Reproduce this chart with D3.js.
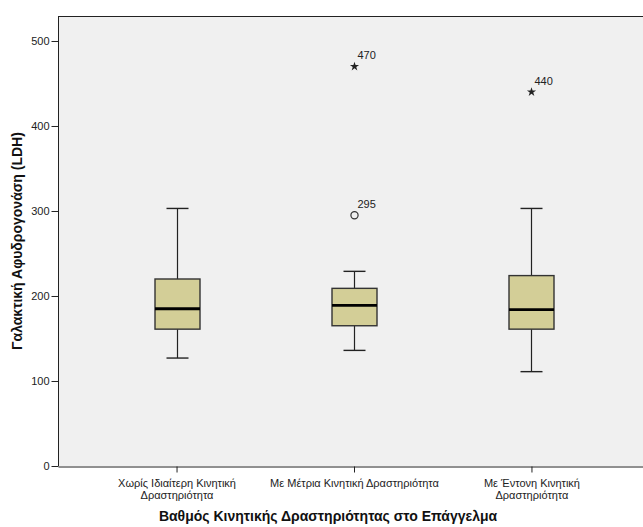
<!DOCTYPE html>
<html>
<head>
<meta charset="utf-8">
<script src="https://cdn.jsdelivr.net/npm/d3@7"></script>
<style>
  html, body { margin: 0; padding: 0; background: #ffffff; }
  svg { display: block; font-family: "Liberation Sans", Arial, sans-serif; }
</style>
</head>
<body>
<svg id="chart" width="643" height="527"></svg>
<script>
// Groups and their two-line axis labels
const categories = [
  "Χωρίς Ιδιαίτερη Κινητική Δραστηριότητα",
  "Με Μέτρια Κινητική Δραστηριότητα",
  "Με Έντονη Κινητική Δραστηριότητα"
];
const tickLabelLines = [
  ["Χωρίς Ιδιαίτερη Κινητική", "Δραστηριότητα"],
  ["Με Μέτρια Κινητική Δραστηριότητα"],
  ["Με Έντονη Κινητική", "Δραστηριότητα"]
];

// Five-number summaries per group (LDH)
const whiskerLow  = [127, 136, 111];
const q1          = [161, 165, 161];
const median      = [185, 189, 184];
const q3          = [220, 209, 224];
const whiskerHigh = [303, 229, 303];

// Outliers: group index, value, kind (circle = outlier, star = extreme), case label
const outlierGroup = [1, 1, 2];
const outlierValue = [295, 470, 440];
const outlierKind  = ["circle", "star", "star"];
const outlierLabel = ["295", "470", "440"];

const yTicks = [0, 100, 200, 300, 400, 500];

const svg = d3.select("#chart");
const plotLeft = 58, plotTop = 16, plotBottom = 466, plotRight = 650;

const x = d3.scalePoint().domain(categories).range([plotLeft, plotRight]).padding(0.668);
const y = d3.scaleLinear().domain([0, 529.4]).range([plotBottom, plotTop]);
const boxW = 45;
const capW = 22;

// Plot background
svg.append("rect")
  .attr("x", plotLeft).attr("y", plotTop)
  .attr("width", plotRight - plotLeft).attr("height", plotBottom - plotTop)
  .attr("fill", "#f0f0f0");

// Top frame line
svg.append("line")
  .attr("x1", plotLeft).attr("x2", plotRight)
  .attr("y1", plotTop + 0.5).attr("y2", plotTop + 0.5)
  .attr("stroke", "#222").attr("stroke-width", 1);

// Y axis
const yAxis = svg.append("g")
  .attr("transform", `translate(${plotLeft + 0.5},0)`)
  .call(d3.axisLeft(y).tickValues(yTicks).tickSize(7).tickPadding(2).tickSizeOuter(0));
yAxis.select(".domain").attr("stroke", "#222").attr("d", `M0,${plotBottom}V${plotTop}`);
yAxis.selectAll(".tick line").attr("stroke", "#222");
yAxis.selectAll(".tick text")
  .attr("font-size", 11).attr("fill", "#222")
  .attr("font-family", "Liberation Sans, Arial, sans-serif");

// X axis
const xAxis = svg.append("g")
  .attr("transform", `translate(0,${plotBottom + 0.5})`)
  .call(d3.axisBottom(x).tickSize(6).tickSizeOuter(0).tickFormat(""));
xAxis.select(".domain").attr("stroke", "#222");
xAxis.selectAll(".tick line").attr("stroke", "#222");
xAxis.selectAll(".tick").each(function(d, i) {
  const t = d3.select(this).append("text")
    .attr("text-anchor", "middle")
    .attr("font-size", 11)
    .attr("fill", "#222")
    .attr("font-family", "Liberation Sans, Arial, sans-serif");
  tickLabelLines[i].forEach((line, j) => {
    t.append("tspan").attr("x", 0).attr("y", 20 + j * 12.5).text(line);
  });
});

// Box plots
const boxes = svg.append("g");
categories.forEach((c, i) => {
  const cx = Math.round(x(c)) + 0.5;
  const g = boxes.append("g");
  // whiskers
  g.append("line")
    .attr("x1", cx).attr("x2", cx)
    .attr("y1", y(q3[i])).attr("y2", y(whiskerHigh[i]))
    .attr("stroke", "#222").attr("stroke-width", 1.2);
  g.append("line")
    .attr("x1", cx).attr("x2", cx)
    .attr("y1", y(q1[i])).attr("y2", y(whiskerLow[i]))
    .attr("stroke", "#222").attr("stroke-width", 1.2);
  [whiskerHigh[i], whiskerLow[i]].forEach(v => {
    g.append("line")
      .attr("x1", cx - capW / 2).attr("x2", cx + capW / 2)
      .attr("y1", y(v)).attr("y2", y(v))
      .attr("stroke", "#222").attr("stroke-width", 1.4);
  });
  // box
  g.append("rect")
    .attr("x", cx - boxW / 2).attr("y", y(q3[i]))
    .attr("width", boxW).attr("height", y(q1[i]) - y(q3[i]))
    .attr("fill", "#d3ce97")
    .attr("stroke", "#333").attr("stroke-width", 1.4);
  // median
  g.append("line")
    .attr("x1", cx - boxW / 2).attr("x2", cx + boxW / 2)
    .attr("y1", y(median[i])).attr("y2", y(median[i]))
    .attr("stroke", "#000").attr("stroke-width", 2.8);
});

// Outliers and extremes with case labels
const outs = svg.append("g");
outlierValue.forEach((v, k) => {
  const cx = Math.round(x(categories[outlierGroup[k]])) + 0.5;
  const cy = y(v);
  if (outlierKind[k] === "circle") {
    outs.append("circle")
      .attr("cx", cx).attr("cy", cy).attr("r", 3.6)
      .attr("fill", "none").attr("stroke", "#333").attr("stroke-width", 1.2);
  } else {
    outs.append("path")
      .attr("transform", `translate(${cx},${cy})`)
      .attr("d", d3.symbol().type(d3.symbolStar).size(26)())
      .attr("fill", "#222");
  }
  outs.append("text")
    .attr("x", cx + 3).attr("y", cy - 7)
    .attr("font-size", 11).attr("fill", "#222")
    .text(outlierLabel[k]);
});

// Axis titles
svg.append("text")
  .attr("transform", `translate(22,${(plotTop + plotBottom) / 2}) rotate(-90)`)
  .attr("text-anchor", "middle")
  .attr("font-size", 14).attr("font-weight", "bold").attr("fill", "#111")
  .text("Γαλακτική Αφυδρογονάση (LDH)");

svg.append("text")
  .attr("x", 328).attr("y", 521)
  .attr("text-anchor", "middle")
  .attr("font-size", 14).attr("font-weight", "bold").attr("fill", "#111")
  .text("Βαθμός Κινητικής Δραστηριότητας στο Επάγγελμα");
</script>
</body>
</html>
